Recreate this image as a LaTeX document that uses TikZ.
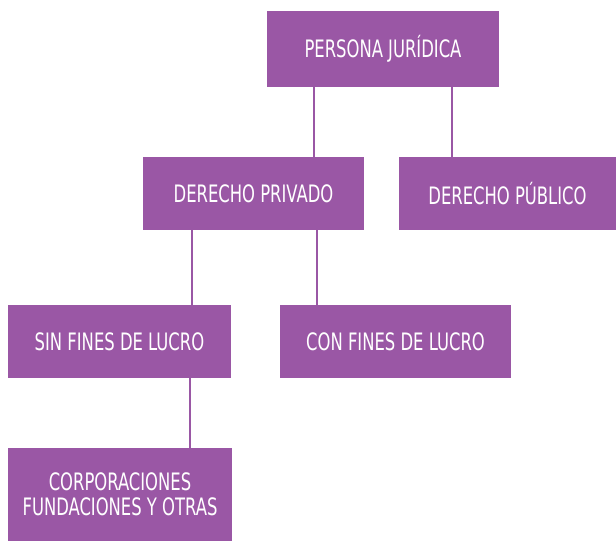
\documentclass[tikz,border=0pt]{standalone}
\usepackage{fontspec}
\setmainfont{DejaVu Sans Condensed}[FakeStretch=0.76]
\usetikzlibrary{positioning}
\definecolor{morado}{HTML}{9A57A5}

\begin{document}
\begin{tikzpicture}[x=1pt, y=1pt,
    caja/.style={fill=morado, text=white, minimum width=#1, minimum height=73pt,
        align=center, inner sep=0pt, font=\fontsize{24}{25}\selectfont},
    enlace/.style={draw=morado, line width=2pt}
]
    \useasboundingbox (0,0) rectangle (616,-541);

    % Niveles
    \node[caja=232pt, minimum height=76pt] (pj) at (383,-49) {PERSONA JURÍDICA};
    \node[caja=221pt] (priv) at (253.5,-193.5) {DERECHO PRIVADO};
    \node[caja=217pt] (pub) at (507.5,-193.5) {DERECHO PÚBLICO};
    \node[caja=223pt] (sin) at (119.5,-341.5) {SIN FINES DE LUCRO};
    \node[caja=231pt] (con) at (395.5,-341.5) {CON FINES DE LUCRO};
    \node[caja=224pt, minimum height=93pt] (corp) at (120,-494.5) {CORPORACIONES\\FUNDACIONES Y OTRAS};

    % Conectores
    \draw[enlace] ([xshift=47pt]pj.south west) coordinate (a1) -- (a1 |- priv.north);
    \draw[enlace] ([xshift=185pt]pj.south west) coordinate (a2) -- (a2 |- pub.north);
    \draw[enlace] ([xshift=49pt]priv.south west) coordinate (b1) -- (b1 |- sin.north);
    \draw[enlace] ([xshift=174pt]priv.south west) coordinate (b2) -- (b2 |- con.north);
    \draw[enlace] ([xshift=182pt]sin.south west) coordinate (c1) -- (c1 |- corp.north);
\end{tikzpicture}
\end{document}
